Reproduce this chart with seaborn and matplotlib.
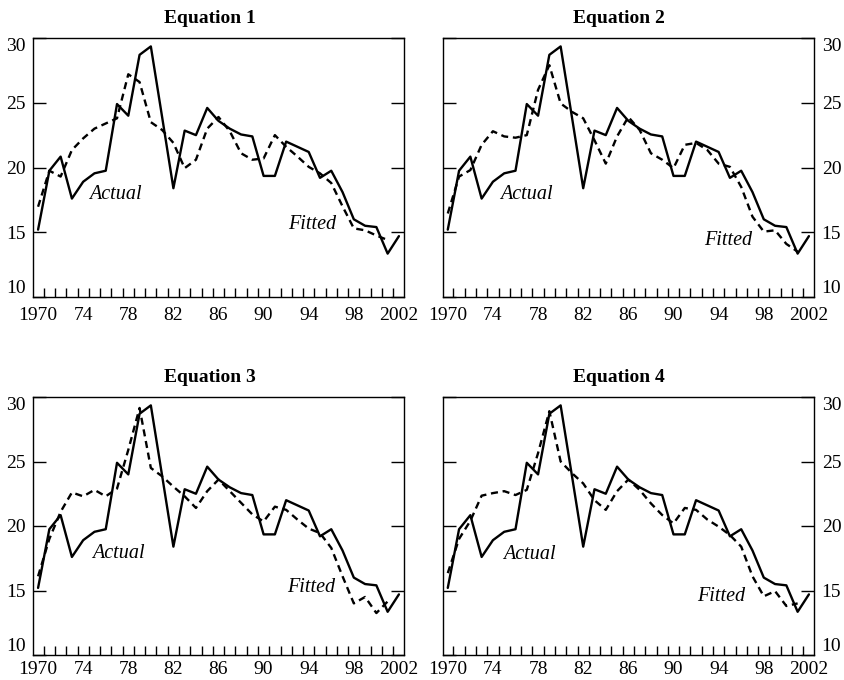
import numpy as np
import pandas as pd
import matplotlib
matplotlib.use("Agg")
import matplotlib.pyplot as plt
import seaborn as sns

years = list(range(1970, 2003))

actual = [15.2, 19.75, 20.84, 17.6, 18.9, 19.55, 19.75, 24.9, 24.0, 28.7,
          29.35, 23.9, 18.4, 22.85, 22.5, 24.6, 23.6, 23.0, 22.55, 22.4,
          19.35, 19.35, 22.0, 21.6, 21.2, 19.2, 19.75, 18.1, 16.0, 15.5,
          15.4, 13.35, 14.7]

fitted1 = [16.97, 19.75, 19.3, 21.35, 22.25, 23.0, 23.4, 23.8, 27.2, 26.6,
           23.5, 22.9, 21.9, 19.95, 20.6, 23.0, 23.9, 22.8, 21.1, 20.6,
           20.7, 22.5, 21.6, 20.85, 20.05, 19.55, 18.8, 17.0, 15.3, 15.15,
           14.75, 14.4]

fitted2 = [16.45, 19.3, 19.8, 21.75, 22.8, 22.4, 22.3, 22.5, 26.0, 27.9,
           24.95, 24.3, 23.8, 22.1, 20.3, 22.4, 23.9, 22.9, 21.1, 20.6,
           19.95, 21.75, 21.9, 21.35, 20.3, 20.05, 18.5, 16.2, 15.05, 15.15,
           14.1, 13.5]

fitted3 = [16.1, 19.0, 21.1, 22.6, 22.3, 22.8, 22.3, 22.9, 25.9, 29.15,
           24.5, 23.85, 23.05, 22.3, 21.4, 22.7, 23.6, 22.7, 21.8, 20.9,
           20.35, 21.5, 21.25, 20.5, 19.8, 19.45, 18.3, 16.1, 14.0, 14.5,
           13.25, 14.15]

fitted4 = [16.35, 19.0, 20.4, 22.35, 22.55, 22.7, 22.4, 22.8, 25.65, 28.9,
           25.0, 24.1, 23.3, 22.0, 21.25, 22.7, 23.6, 22.8, 21.75, 20.85,
           20.2, 21.4, 21.25, 20.5, 19.95, 19.3, 18.4, 16.1, 14.55, 14.95,
           13.8, 14.0]

titles = ["Equation 1", "Equation 2", "Equation 3", "Equation 4"]
fitted_all = [fitted1, fitted2, fitted3, fitted4]

xtick_vals = [1970, 1974, 1978, 1982, 1986, 1990, 1994, 1998, 2002]
xtick_labels = ["1970", "74", "78", "82", "86", "90", "94", "98", "2002"]
ytick_vals = [10, 15, 20, 25, 30]

# label positions (data coords): (actual_x, actual_y, fitted_x, fitted_y)
label_pos = [(1974.5, 17.9, 1992.2, 15.6),
             (1974.6, 17.95, 1992.7, 14.4),
             (1974.75, 17.9, 1992.05, 15.2),
             (1974.9, 17.8, 1992.1, 14.55)]

sns.set_theme(style="white")
plt.rcParams["font.family"] = ["Liberation Serif", "DejaVu Serif"]
plt.rcParams["axes.linewidth"] = 1.0
plt.rcParams["axes.edgecolor"] = "black"
plt.rcParams["text.color"] = "black"
plt.rcParams["xtick.color"] = "black"
plt.rcParams["ytick.color"] = "black"
plt.rcParams["xtick.labelcolor"] = "black"
plt.rcParams["ytick.labelcolor"] = "black"

fig = plt.figure(figsize=(8.44, 6.8), dpi=100)
W, H = 844, 680
boxes = [(33, 38, 404, 297), (442.7, 38, 814, 297),
         (33, 397, 404, 655), (442.7, 397, 814, 655)]

FS = 14

for i, (x0, y0, x1, y1) in enumerate(boxes):
    ax = fig.add_axes([x0 / W, 1 - y1 / H, (x1 - x0) / W, (y1 - y0) / H])
    df_a = pd.DataFrame({"year": years, "value": actual, "series": "Actual"})
    df_f = pd.DataFrame({"year": years[:len(fitted_all[i])],
                         "value": fitted_all[i], "series": "Fitted"})
    df = pd.concat([df_a, df_f], ignore_index=True)
    sns.lineplot(data=df, x="year", y="value", style="series",
                 dashes={"Actual": "", "Fitted": (3, 2)},
                 color="black", linewidth=1.7, legend=False, ax=ax,
                 estimator=None, sort=False)
    ax.set_xlim(1969.55, 2002.45)
    ax.set_ylim(10, 30)
    ax.set_xlabel("")
    ax.set_ylabel("")

    ax.set_xticks(xtick_vals)
    ax.set_xticklabels(xtick_labels, fontsize=FS)
    ax.set_xticks([y + 0.5 for y in range(1970, 2002)], minor=True)
    xpad = 7 if i < 2 else 4.5
    ax.tick_params(axis="x", which="major", length=0, pad=xpad)
    ax.tick_params(axis="x", which="minor", direction="in", length=6.5,
                   width=1, bottom=True, top=False, color="black")

    ax.set_yticks(ytick_vals)
    ax.set_yticklabels([str(v) for v in ytick_vals], fontsize=FS)
    right = (i % 2 == 1)
    ax.tick_params(axis="y", which="major", direction="in", length=9.4,
                   width=1, left=True, right=True, color="black",
                   labelleft=not right, labelright=right, pad=5.5)
    ylabels = ax.get_yticklabels()
    ylabels[0].set_va("bottom")
    ylabels[-1].set_va("top")

    for s in ax.spines.values():
        s.set_visible(True)
        s.set_color("black")
        s.set_linewidth(1.0)

    center_px = (x0 + x1) / 2 - 9
    ax.text((center_px - x0) / (x1 - x0), 1 + 15 / (y1 - y0), titles[i],
            transform=ax.transAxes, ha="center", va="baseline",
            fontsize=FS, fontweight="bold", color="black")

    axx, axy, fx, fy = label_pos[i]
    ax.text(axx, axy, "Actual", fontsize=FS + 0.5, style="italic",
            ha="left", va="center", color="black")
    ax.text(fx, fy, "Fitted", fontsize=FS + 0.5, style="italic",
            ha="left", va="center", color="black")

fig.savefig("out.png", dpi=100)
